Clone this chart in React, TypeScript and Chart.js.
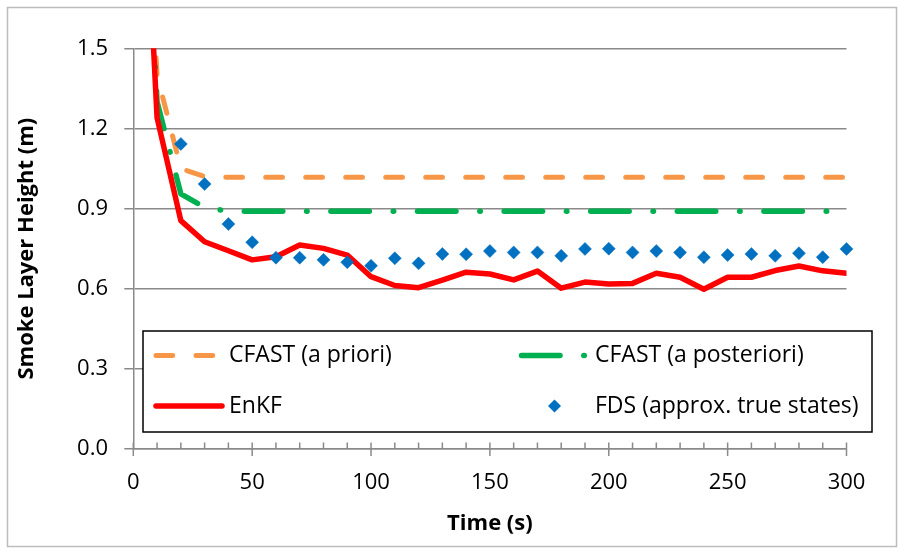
import { useEffect, useRef } from 'react';
import { Chart, registerables } from 'chart.js';

Chart.register(...registerables);

// Simulation time (s), one sample every 10 s
const TIME_S = [0, 10, 20, 30, 40, 50, 60, 70, 80, 90, 100, 110, 120, 130, 140, 150, 160, 170, 180, 190, 200, 210, 220, 230, 240, 250, 260, 270, 280, 290, 300];

// Smoke layer height (m) for each model run
const CFAST_PRIORI = [3.0, 1.40, 1.05, 1.02, 1.017, 1.017, 1.017, 1.017, 1.017, 1.017, 1.017, 1.017, 1.017, 1.017, 1.017, 1.017, 1.017, 1.017, 1.017, 1.017, 1.017, 1.017, 1.017, 1.017, 1.017, 1.017, 1.017, 1.017, 1.017, 1.017, 1.017];
const CFAST_POSTERIORI = [3.0, 1.30, 0.955, 0.905, 0.89, 0.89, 0.89, 0.89, 0.89, 0.89, 0.89, 0.89, 0.89, 0.89, 0.89, 0.89, 0.89, 0.89, 0.89, 0.89, 0.89, 0.89, 0.89, 0.89, 0.89, 0.89, 0.89, 0.89, 0.89, 0.89, 0.89];
const ENKF = [3.0, 1.24, 0.855, 0.776, 0.742, 0.708, 0.72, 0.764, 0.751, 0.726, 0.645, 0.612, 0.604, 0.632, 0.662, 0.655, 0.633, 0.666, 0.602, 0.625, 0.618, 0.62, 0.658, 0.643, 0.598, 0.643, 0.643, 0.668, 0.685, 0.667, 0.658];

// FDS reference (approximate true states)
const FDS_TIME = [20, 30, 40, 50, 60, 70, 80, 90, 100, 110, 120, 130, 140, 150, 160, 170, 180, 190, 200, 210, 220, 230, 240, 250, 260, 270, 280, 290, 300];
const FDS = [1.142, 0.992, 0.842, 0.774, 0.716, 0.716, 0.708, 0.699, 0.686, 0.714, 0.695, 0.73, 0.729, 0.741, 0.736, 0.736, 0.723, 0.749, 0.75, 0.736, 0.741, 0.736, 0.718, 0.726, 0.73, 0.723, 0.733, 0.718, 0.749];

// Axis ticks
const X_TICKS = [0, 50, 100, 150, 200, 250, 300];
const X_MINOR_STEP = 10;
const Y_TICKS = [0, 0.3, 0.6, 0.9, 1.2, 1.5];

const FONT = '"Open Sans", "Liberation Sans", sans-serif';
const AXIS_GREY = '#8a8a8a';

const pairs = (xs: number[], ys: number[]) => xs.map((x, i) => ({ x, y: ys[i] }));

// White page with a thin frame around the whole chart
const chartFrame = {
  id: 'chartFrame',
  beforeDraw(chart: any) {
    const { ctx, width, height } = chart;
    ctx.save();
    ctx.fillStyle = '#ffffff';
    ctx.fillRect(0, 0, width, height);
    ctx.strokeStyle = '#bdbdbd';
    ctx.lineWidth = 1.5;
    ctx.strokeRect(7.5, 7.5, width - 15, height - 15);
    ctx.restore();
  },
};

// Major (crossing) and minor (inside) tick marks on the time axis
const timeAxisMarks = {
  id: 'timeAxisMarks',
  afterDraw(chart: any) {
    const { ctx } = chart;
    const xs = chart.scales.x;
    const base = chart.chartArea.bottom;
    ctx.save();
    ctx.strokeStyle = AXIS_GREY;
    ctx.lineWidth = 1.5;
    ctx.beginPath();
    for (let v = xs.min; v <= xs.max; v += X_MINOR_STEP) {
      const px = xs.getPixelForValue(v);
      const major = X_TICKS.includes(v);
      ctx.moveTo(px, base - 6.5);
      ctx.lineTo(px, major ? base + 7 : base);
    }
    ctx.stroke();
    ctx.restore();
  },
};

// Two-column boxed legend inside the plot
const boxLegend = {
  id: 'boxLegend',
  afterDraw(chart: any) {
    const { ctx } = chart;
    const sets = chart.data.datasets;
    const box = { left: 143, top: 331, right: 872, bottom: 432 };
    const rows = [355.5, 406];
    const samples = [
      { from: 156, to: 222, text: 229 },
      { from: 521.5, to: 587.5, text: 595 },
    ];
    const layout = [
      { ds: 0, col: 0, row: 0 },
      { ds: 1, col: 1, row: 0 },
      { ds: 2, col: 0, row: 1 },
      { ds: 3, col: 1, row: 1 },
    ];
    ctx.save();
    ctx.fillStyle = '#ffffff';
    ctx.fillRect(box.left, box.top, box.right - box.left, box.bottom - box.top);
    ctx.strokeStyle = '#000000';
    ctx.lineWidth = 1.5;
    ctx.strokeRect(box.left, box.top, box.right - box.left, box.bottom - box.top);

    layout.forEach(({ ds, col, row }) => {
      const d = sets[ds];
      const s = samples[col];
      const y = rows[row];
      if (d.showLine === false) {
        const cx = (s.from + s.to) / 2;
        const r = d.pointRadius;
        ctx.setLineDash([]);
        ctx.fillStyle = d.pointBackgroundColor;
        ctx.beginPath();
        ctx.moveTo(cx - r, y);
        ctx.lineTo(cx, y - r);
        ctx.lineTo(cx + r, y);
        ctx.lineTo(cx, y + r);
        ctx.closePath();
        ctx.fill();
      } else {
        ctx.setLineDash(d.borderDash || []);
        ctx.lineDashOffset = 0;
        ctx.lineCap = 'round';
        ctx.lineWidth = d.borderWidth;
        ctx.strokeStyle = d.borderColor;
        ctx.beginPath();
        ctx.moveTo(s.from, y);
        ctx.lineTo(s.to, y);
        ctx.stroke();
      }
      ctx.setLineDash([]);
      ctx.fillStyle = '#000000';
      ctx.font = `23px ${FONT}`;
      ctx.textAlign = 'left';
      ctx.textBaseline = 'middle';
      ctx.fillText(d.label, s.text, y);
    });
    ctx.restore();
  },
};

export default function App() {
  const canvasRef = useRef<HTMLCanvasElement | null>(null);

  useEffect(() => {
    const canvas = canvasRef.current;
    if (!canvas) return;

    const chart = new Chart(canvas, {
      type: 'scatter',
      data: {
        datasets: [
          {
            label: 'CFAST (a priori)',
            data: pairs(TIME_S, CFAST_PRIORI),
            showLine: true,
            borderColor: '#F79646',
            borderWidth: 5,
            borderDash: [16.7, 23.3],
            borderDashOffset: 29.2,
            borderCapStyle: 'round',
            borderJoinStyle: 'round',
            pointRadius: 0,
            order: 4,
          },
          {
            label: 'CFAST (a posteriori)',
            data: pairs(TIME_S, CFAST_POSTERIORI),
            showLine: true,
            borderColor: '#00B050',
            borderWidth: 5.5,
            borderDash: [38.5, 23.8, 0.5, 23.8],
            borderDashOffset: 75.6,
            borderCapStyle: 'round',
            borderJoinStyle: 'round',
            pointRadius: 0,
            order: 3,
          },
          {
            label: 'EnKF',
            data: pairs(TIME_S, ENKF),
            showLine: true,
            borderColor: '#FF0000',
            borderWidth: 5.5,
            borderCapStyle: 'round',
            borderJoinStyle: 'round',
            pointRadius: 0,
            order: 2,
          },
          {
            label: 'FDS (approx. true states)',
            data: pairs(FDS_TIME, FDS),
            showLine: false,
            pointStyle: 'rectRot',
            pointRadius: 6.5,
            pointBackgroundColor: '#0070C0',
            pointBorderColor: '#0070C0',
            pointBorderWidth: 0.5,
            clip: 12,
            order: 1,
          },
        ] as any,
      },
      options: {
        animation: false,
        responsive: false,
        maintainAspectRatio: false,
        devicePixelRatio: 1,
        layout: { padding: { top: 48.3, right: 57.5, bottom: 0, left: 0 } },
        plugins: {
          legend: { display: false },
          tooltip: { enabled: false },
        },
        scales: {
          x: {
            type: 'linear',
            min: 0,
            max: 300,
            afterBuildTicks: (s: any) => {
              s.ticks = X_TICKS.map((value) => ({ value }));
            },
            afterFit: (s: any) => {
              s.height = 105;
            },
            ticks: {
              font: { family: FONT, size: 22 },
              color: '#000000',
              padding: 21,
              maxRotation: 0,
              autoSkip: false,
            },
            grid: { display: false, drawTicks: false },
            border: { display: true, color: AXIS_GREY, width: 1.5 },
            title: {
              display: true,
              text: 'Time (s)',
              color: '#000000',
              font: { family: FONT, size: 22, weight: 'bold' },
              padding: { top: 0, bottom: 16.8 },
            },
          },
          y: {
            type: 'linear',
            min: 0,
            max: 1.5,
            afterBuildTicks: (s: any) => {
              s.ticks = Y_TICKS.map((value) => ({ value }));
            },
            afterFit: (s: any) => {
              s.width = 133.3;
            },
            ticks: {
              callback: (v: any) => Number(v).toFixed(1),
              font: { family: FONT, size: 22 },
              color: '#000000',
              padding: 16.3,
            },
            grid: {
              color: AXIS_GREY,
              lineWidth: 1.5,
              drawTicks: true,
              tickLength: 9,
              tickColor: AXIS_GREY,
            },
            border: { display: true, color: AXIS_GREY, width: 1.5 },
            title: {
              display: true,
              text: 'Smoke Layer Height (m)',
              color: '#000000',
              font: { family: FONT, size: 22, weight: 'bold' },
              padding: { top: 13.8, bottom: 0 },
            },
          },
        },
      } as any,
      plugins: [chartFrame, timeAxisMarks, boxLegend],
    });

    return () => chart.destroy();
  }, []);

  return (
    <div style={{ position: 'fixed', left: 0, top: 0, width: 904, height: 554, background: '#ffffff' }}>
      <canvas ref={canvasRef} width={904} height={554} style={{ display: 'block' }} />
    </div>
  );
}
